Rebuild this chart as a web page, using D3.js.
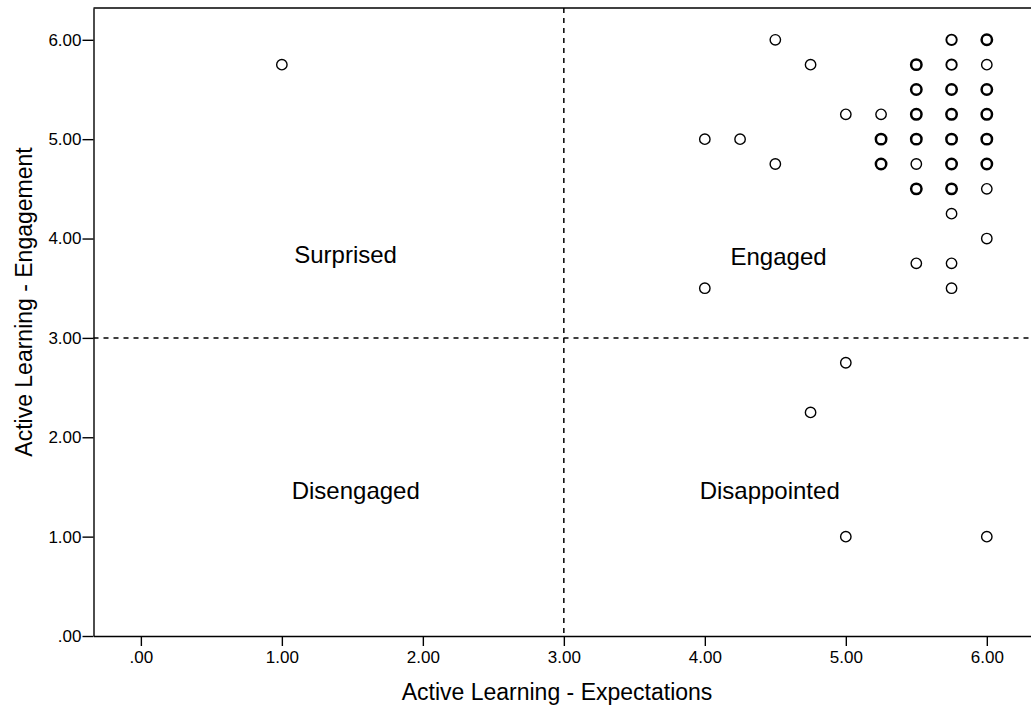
<!DOCTYPE html>
<html>
<head>
<meta charset="utf-8">
<script src="https://cdn.jsdelivr.net/npm/d3@7"></script>
<style>
  html, body { margin: 0; padding: 0; background: #fff; }
  svg { display: block; font-family: "Liberation Sans", Arial, sans-serif; }
</style>
</head>
<body>
<svg id="chart" width="1031" height="713"></svg>
<script>
// Respondent scores (unique positions; n = number of respondents stacked at a point)
const expectations = [1, 4, 4, 4.25, 4.5, 4.5, 4.75, 4.75, 5, 5, 5,
  5.25, 5.25, 5.25,
  5.5, 5.5, 5.5, 5.5, 5.5, 5.5, 5.5,
  5.75, 5.75, 5.75, 5.75, 5.75, 5.75, 5.75, 5.75, 5.75, 5.75,
  6, 6, 6, 6, 6, 6, 6, 6, 6];
const engagement = [5.75, 5, 3.5, 5, 6, 4.75, 5.75, 2.25, 5.25, 2.75, 1,
  5.25, 5, 4.75,
  5.75, 5.5, 5.25, 5, 4.75, 4.5, 3.75,
  6, 5.75, 5.5, 5.25, 5, 4.75, 4.5, 4.25, 3.75, 3.5,
  6, 5.75, 5.5, 5.25, 5, 4.75, 4.5, 4, 1];
const overlap = [1, 1, 1, 1, 1, 1, 1, 1, 1, 1, 1,
  1, 3, 3,
  3, 3, 3, 3, 1, 3, 1,
  2, 2, 3, 3, 3, 3, 3, 1, 1, 1,
  3, 1, 3, 3, 3, 3, 1, 1, 1];

const xTicks = [0, 1, 2, 3, 4, 5, 6];
const yTicks = [0, 1, 2, 3, 4, 5, 6];
const xTitle = "Active Learning - Expectations";
const yTitle = "Active Learning - Engagement";

// Quadrant names with their anchor points (data units) and the split value
const quadrantNames = ["Surprised", "Engaged", "Disengaged", "Disappointed"];
const quadrantX = [1.452, 4.523, 1.524, 4.46];
const quadrantY = [3.755, 3.735, 1.379, 1.379];
const splitValue = 3;

const svg = d3.select("#chart");
const W = 1031, H = 713;

const x = d3.scaleLinear().domain([-0.336, 6.317]).range([93.5, 1031.5]);
const y = d3.scaleLinear().domain([0, 6.32]).range([636, 8]);

const fmt = v => v === 0 ? ".00" : d3.format(".2f")(v);

// frame top edge
svg.append("line")
  .attr("x1", x.range()[0]).attr("x2", W)
  .attr("y1", y.range()[1]).attr("y2", y.range()[1])
  .attr("stroke", "#000").attr("stroke-width", 1.4);

// axes
const xAxis = svg.append("g")
  .attr("transform", `translate(0,${y(0)})`)
  .call(d3.axisBottom(x).tickValues(xTicks).tickFormat(fmt).tickSize(10).tickPadding(5).tickSizeOuter(0));
const yAxis = svg.append("g")
  .attr("transform", `translate(${x.range()[0]},0)`)
  .call(d3.axisLeft(y).tickValues(yTicks).tickFormat(fmt).tickSize(11).tickPadding(1).tickSizeOuter(0));

[xAxis, yAxis].forEach(g => {
  g.select(".domain").attr("stroke", "#000").attr("stroke-width", 1.4);
  g.selectAll(".tick line").attr("stroke", "#000").attr("stroke-width", 1.4);
  g.selectAll(".tick text").attr("fill", "#000")
    .style("font-size", "17px").style("font-family", "'Liberation Sans', Arial, sans-serif");
});

// quadrant dividers
svg.append("line")
  .attr("x1", x(splitValue)).attr("x2", x(splitValue))
  .attr("y1", y.range()[1]).attr("y2", y(0))
  .attr("stroke", "#000").attr("stroke-width", 1.5).attr("stroke-dasharray", "5,5");
svg.append("line")
  .attr("x1", x.range()[0]).attr("x2", W)
  .attr("y1", y(splitValue)).attr("y2", y(splitValue))
  .attr("stroke", "#000").attr("stroke-width", 1.5).attr("stroke-dasharray", "5,5");

// quadrant names
svg.append("g").selectAll("text")
  .data(quadrantNames)
  .join("text")
  .attr("x", (d, i) => x(quadrantX[i]))
  .attr("y", (d, i) => y(quadrantY[i]))
  .attr("text-anchor", "middle")
  .style("font-size", "24px")
  .attr("fill", "#000")
  .text(d => d);

// points: stacked respondents drawn with a heavier outline
const strokeW = d3.scaleOrdinal().domain([1, 2, 3]).range([1.4, 1.9, 2.5]);
svg.append("g").selectAll("circle")
  .data(expectations.map((v, i) => ({ ex: v, en: engagement[i], n: overlap[i] })))
  .join("circle")
  .attr("cx", d => x(d.ex))
  .attr("cy", d => y(d.en))
  .attr("r", 5.2)
  .attr("fill", "none")
  .attr("stroke", "#000")
  .attr("stroke-width", d => strokeW(d.n));

// axis titles
svg.append("text")
  .attr("x", 557).attr("y", 700)
  .attr("text-anchor", "middle")
  .style("font-size", "23px")
  .text(xTitle);
svg.append("text")
  .attr("transform", `translate(32,302) rotate(-90)`)
  .attr("text-anchor", "middle")
  .style("font-size", "23px")
  .text(yTitle);
</script>
</body>
</html>
